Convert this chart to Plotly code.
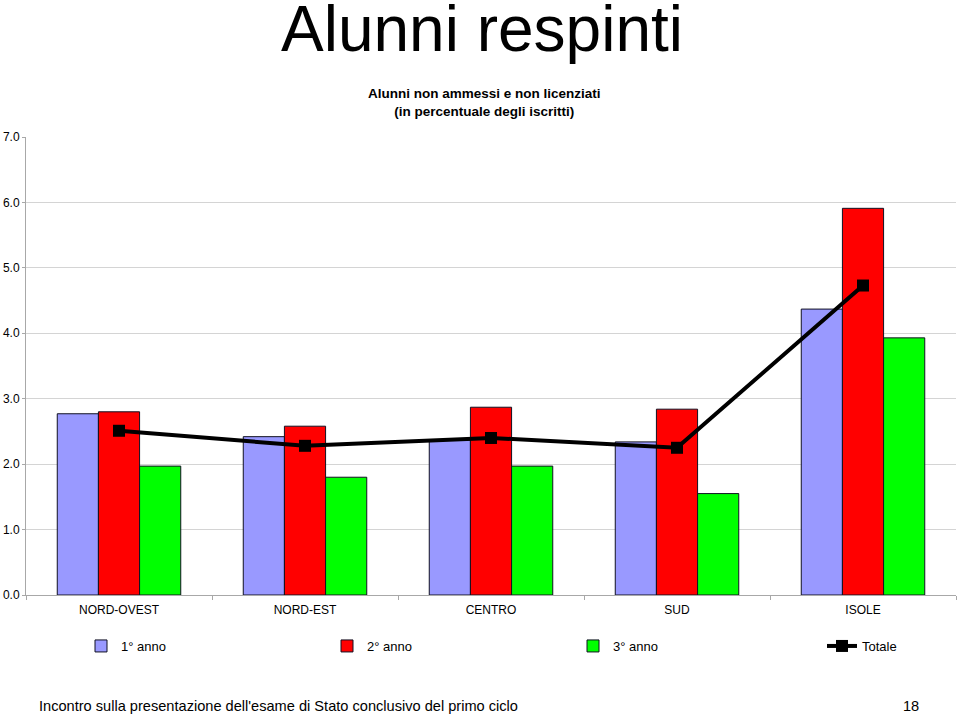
import plotly.graph_objects as go

categories = ["NORD-OVEST", "NORD-EST", "CENTRO", "SUD", "ISOLE"]
anno1 = [2.77, 2.42, 2.37, 2.34, 4.37]
anno2 = [2.80, 2.58, 2.87, 2.84, 5.91]
anno3 = [1.97, 1.80, 1.97, 1.55, 3.93]
totale = [2.51, 2.28, 2.40, 2.25, 4.73]
series_names = ["1° anno", "2° anno", "3° anno", "Totale"]
y_ticks = [0, 1, 2, 3, 4, 5, 6, 7]

FONT = "Liberation Sans, Arial, sans-serif"
W, H = 959, 716
L, R, T, B = 26, 3, 137, 121
PH = H - T - B
PW = W - L - R


def py(px):
    return (H - B - px) / PH


def px_(x):
    return (x - L) / PW


fig = go.Figure()
colors = ["#9999FF", "#FF0000", "#00FF00"]
legend_ids = ["legend", "legend2", "legend3", "legend4"]
for name, vals, col, lg in zip(series_names[:3], [anno1, anno2, anno3], colors, legend_ids):
    fig.add_trace(go.Bar(
        x=categories, y=vals, name=name, legend=lg,
        marker=dict(color=col, line=dict(color="#111122", width=1)),
    ))
fig.add_trace(go.Scatter(
    x=categories, y=totale, name=series_names[3], mode="lines+markers",
    legend=legend_ids[3],
    line=dict(color="black", width=4),
    marker=dict(symbol="square", size=12, color="black"),
))

legend_x = [81, 327, 573, 822]
legend_common = dict(
    orientation="h", y=py(631), xanchor="left", yanchor="top",
    font=dict(size=13, family=FONT, color="black"), itemwidth=30,
    bgcolor="rgba(0,0,0,0)", borderwidth=0,
)

fig.update_layout(
    width=W, height=H,
    margin=dict(l=L, r=R, t=T, b=B, pad=0),
    paper_bgcolor="white", plot_bgcolor="white",
    font=dict(family=FONT, color="black"),
    barmode="group", bargap=0.336, bargroupgap=0,
    showlegend=True,
    legend=dict(x=px_(legend_x[0]), **legend_common),
    legend2=dict(x=px_(legend_x[1]), **legend_common),
    legend3=dict(x=px_(legend_x[2]), **legend_common),
    legend4=dict(x=px_(legend_x[3]), **legend_common),
    xaxis=dict(
        showline=True, linecolor="#a8a8a8", linewidth=1,
        ticks="outside", tickson="boundaries", ticklen=4, tickcolor="#a8a8a8",
        ticklabelstandoff=4,
        tickfont=dict(size=12, family=FONT, color="black"), showgrid=False,
    ),
    yaxis=dict(
        range=[0, 7], tickvals=y_ticks, tickformat=".1f",
        showline=True, linecolor="#a8a8a8", linewidth=1,
        ticks="outside", ticklen=3, tickcolor="#a8a8a8",
        showgrid=True, gridcolor="#d4d4d4", gridwidth=1,
        tickfont=dict(size=12, family=FONT, color="black"), zeroline=False,
    ),
    annotations=[
        dict(text="Alunni respinti", xref="paper", yref="paper",
             x=px_(481.5), y=py(29), xanchor="center", yanchor="middle",
             showarrow=False, font=dict(size=64, family=FONT, color="black")),
        dict(text="<b>Alunni non ammessi e non licenziati<br>(in percentuale degli iscritti)</b>",
             xref="paper", yref="paper", x=px_(484), y=py(102),
             xanchor="center", yanchor="middle", showarrow=False,
             font=dict(size=13.5, family=FONT, color="black")),
        dict(text="Incontro sulla presentazione dell'esame di Stato conclusivo del primo ciclo",
             xref="paper", yref="paper", x=px_(37), y=py(706),
             xanchor="left", yanchor="middle", showarrow=False,
             font=dict(size=14.6, family=FONT, color="black")),
        dict(text="18", xref="paper", yref="paper", x=px_(921), y=py(706),
             xanchor="right", yanchor="middle", showarrow=False,
             font=dict(size=14.6, family=FONT, color="black")),
    ],
)

fig.write_html("out.html", config={"displayModeBar": False},
               post_script="document.body.style.margin='0';")
